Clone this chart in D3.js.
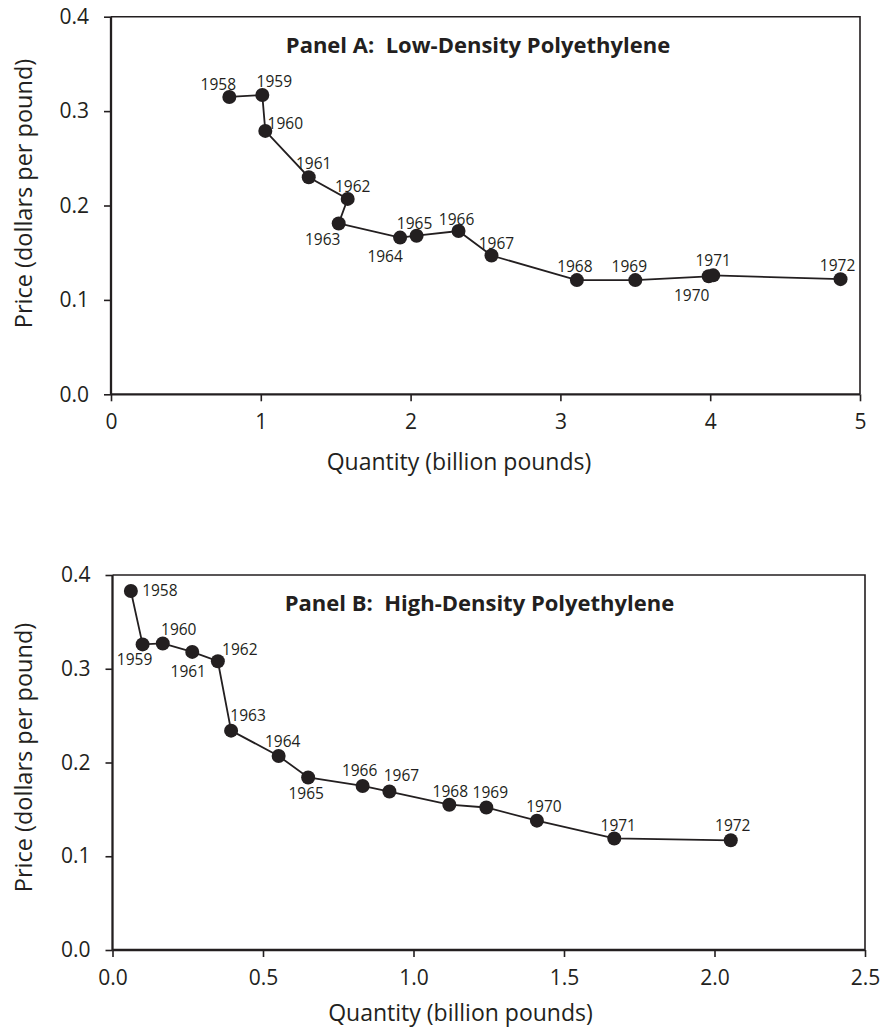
<!DOCTYPE html>
<html>
<head>
<meta charset="utf-8">
<script src="https://cdnjs.cloudflare.com/ajax/libs/d3/7.8.5/d3.min.js"></script>
<style>
  html, body { margin: 0; padding: 0; background: #fff; }
  svg { display: block; }
  text { font-family: "Open Sans", "Noto Sans", sans-serif; fill: #231f20; }
</style>
</head>
<body>
<svg id="chart" width="881" height="1029"></svg>
<script>
// Low-density polyethylene, 1958-1972
const yearsA = [1958, 1959, 1960, 1961, 1962, 1963, 1964, 1965, 1966, 1967, 1968, 1969, 1970, 1971, 1972];
const quantityA = [0.79, 1.01, 1.03, 1.32, 1.58, 1.52, 1.93, 2.04, 2.32, 2.54, 3.11, 3.50, 3.99, 4.02, 4.87];
const priceA = [0.315, 0.317, 0.279, 0.230, 0.207, 0.181, 0.166, 0.168, 0.173, 0.147, 0.121, 0.121, 0.125, 0.126, 0.122];

// High-density polyethylene, 1958-1972
const yearsB = [1958, 1959, 1960, 1961, 1962, 1963, 1964, 1965, 1966, 1967, 1968, 1969, 1970, 1971, 1972];
const quantityB = [0.061, 0.100, 0.167, 0.265, 0.350, 0.394, 0.552, 0.650, 0.831, 0.920, 1.119, 1.242, 1.410, 1.667, 2.054];
const priceB = [0.383, 0.326, 0.327, 0.318, 0.308, 0.234, 0.207, 0.184, 0.175, 0.169, 0.155, 0.152, 0.138, 0.119, 0.117];

// Axis ticks
const xTicksA = [0, 1, 2, 3, 4, 5];
const xTicksB = [0, 0.5, 1.0, 1.5, 2.0, 2.5];
const yTicks = [0, 0.1, 0.2, 0.3, 0.4];

// Year-label placement around each marker (pixel offsets from the marker centre)
const labelShiftA = [[-11,-13],[12,-14],[20,-8],[5,-14],[5,-13],[-16,16],[-15,18],[-2,-13],[-2,-12],[5,-13],[-2,-14],[-6,-14],[-17,19],[0,-15],[-3,-14]];
const labelShiftB = [[29,-1],[-8,15],[16,-14],[-4,19],[22,-12],[17,-16],[4,-15],[-2,15],[-3,-16],[12,-17],[1,-14],[4,-16],[7,-15],[4,-13],[2,-15]];

const ink = "#231f20";
const svg = d3.select("#chart");

function panel(opts) {
  const { left, top, width, height, xMax, xTicks, xFormat, title, years, qty, price, shifts, xTitleGap, yTitleShift } = opts;
  const g = svg.append("g").attr("transform", `translate(${left},${top})`);
  const x = d3.scaleLinear().domain([0, xMax]).range([0, width]);
  const y = d3.scaleLinear().domain([0, 0.4]).range([height, 0]);

  // plot-area border (top and right)
  g.append("path")
    .attr("d", `M0,0H${width}V${height}`)
    .attr("fill", "none").attr("stroke", ink).attr("stroke-width", 1.6);

  const xAxis = g.append("g").attr("transform", `translate(0,${height})`)
    .call(d3.axisBottom(x).tickValues(xTicks).tickFormat(xFormat).tickSize(7).tickPadding(13));
  const yAxis = g.append("g")
    .call(d3.axisLeft(y).tickValues(yTicks).tickFormat(d3.format(".1f")).tickSize(7).tickPadding(15));

  [xAxis, yAxis].forEach(a => {
    a.select(".domain").attr("stroke", ink).attr("stroke-width", 2.3);
    a.selectAll(".tick line").attr("stroke", ink).attr("stroke-width", 1.6);
    a.selectAll(".tick text").attr("font-size", 21).attr("font-family", "Open Sans").attr("fill", ink);
  });
  xAxis.select(".domain").attr("d", `M0,0H${width}`);
  yAxis.select(".domain").attr("d", `M0,0V${height}`);

  const pts = years.map((yr, i) => ({ yr, q: qty[i], p: price[i], s: shifts[i] }));

  g.append("path")
    .datum(pts)
    .attr("d", d3.line().x(d => x(d.q)).y(d => y(d.p)))
    .attr("fill", "none").attr("stroke", ink).attr("stroke-width", 1.8);

  g.selectAll("circle.pt").data(pts).join("circle")
    .attr("class", "pt")
    .attr("cx", d => x(d.q)).attr("cy", d => y(d.p)).attr("r", 7)
    .attr("fill", ink);

  g.selectAll("text.yr").data(pts).join("text")
    .attr("class", "yr")
    .attr("x", d => x(d.q) + d.s[0])
    .attr("y", d => y(d.p) + d.s[1])
    .attr("text-anchor", "middle").attr("dominant-baseline", "central")
    .attr("font-size", 15.5)
    .text(d => d.yr);

  g.append("text")
    .attr("x", 367).attr("y", 36)
    .attr("text-anchor", "middle")
    .attr("font-size", 22).attr("font-weight", "bold")
    .text(title);

  g.append("text")
    .attr("x", 348).attr("y", height + xTitleGap)
    .attr("text-anchor", "middle").attr("font-size", 23)
    .text("Quantity (billion pounds)");

  g.append("text")
    .attr("transform", `translate(${23 - left},${height / 2 + yTitleShift}) rotate(-90)`)
    .attr("text-anchor", "middle").attr("dominant-baseline", "central")
    .attr("font-size", 23.5)
    .text("Price (dollars per pound)");
}

panel({
  left: 111, top: 16.7, width: 749, height: 377.6, xMax: 5,
  xTicks: xTicksA, xFormat: d3.format("d"),
  title: "Panel A:\u00a0 Low-Density Polyethylene",
  years: yearsA, qty: quantityA, price: priceA, shifts: labelShiftA,
  xTitleGap: 76, yTitleShift: -12
});

panel({
  left: 112.5, top: 575, width: 752.5, height: 375, xMax: 2.5,
  xTicks: xTicksB, xFormat: d3.format(".1f"),
  title: "Panel B:\u00a0 High-Density Polyethylene",
  years: yearsB, qty: quantityB, price: priceB, shifts: labelShiftB,
  xTitleGap: 71, yTitleShift: -5
});
</script>
</body>
</html>
